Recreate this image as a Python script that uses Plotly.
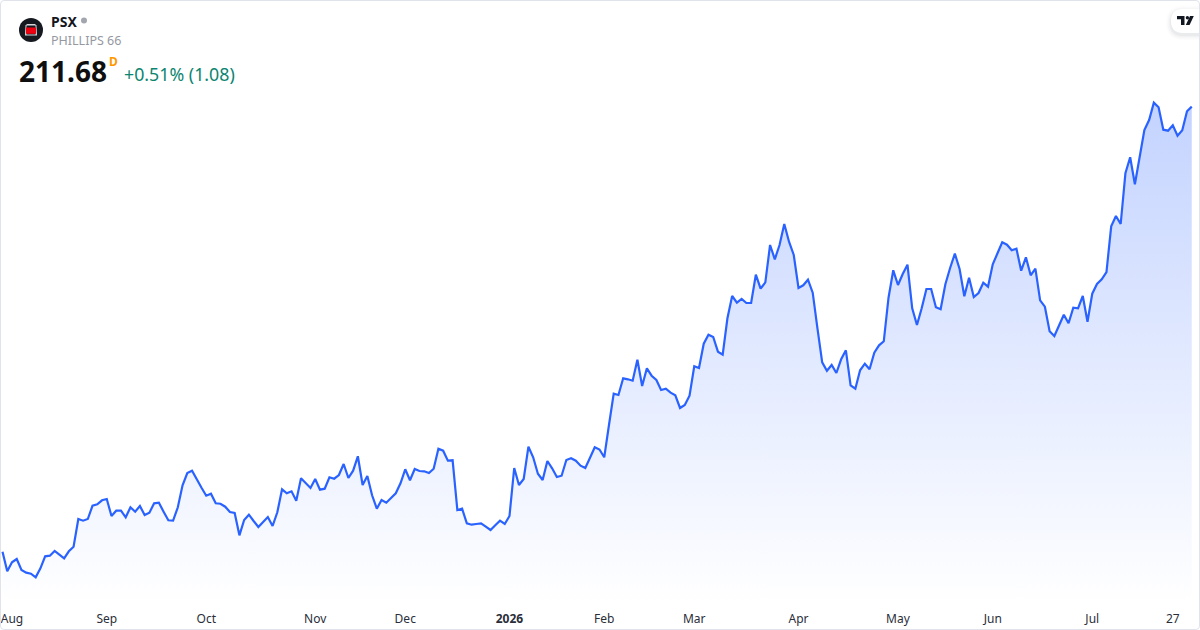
import plotly.graph_objects as go

ticker = "PSX"
company = "PHILLIPS 66"
last_price = "211.68"
interval = "D"
change_text = "+0.51% (1.08)"

prices_aug_oct = [
    122.66, 118.74, 120.54, 121.2, 119.0, 118.46, 118.26, 117.54, 119.34, 121.74,
    121.86, 122.8, 122.06, 121.34, 122.74, 123.66, 129.2, 128.86, 129.2, 131.86,
    132.14, 132.94, 133.2, 129.8, 130.86, 130.86, 129.54, 131.54, 130.66, 131.8,
    130.0, 130.46, 132.34, 132.46, 130.66, 128.94, 128.86, 131.54, 135.94, 138.4,
    138.86, 137.0, 135.46, 133.86, 134.26, 132.34, 132.26, 131.66, 130.6, 130.4,
    125.94, 129.0, 130.06, 128.8, 127.6, 128.6, 129.6, 127.8, 130.54, 135.14,
    134.34, 134.74, 132.86,
]
prices_nov_feb = [
    137.34, 136.46, 135.4, 137.2, 135.06, 135.26, 137.54, 137.26, 138.0, 140.2,
    137.4, 138.86, 141.74, 136.0, 137.8, 133.94, 131.26, 133.0, 132.46, 133.4,
    134.34, 136.34, 139.14, 136.94, 139.2, 138.8, 138.74, 138.4, 139.26, 143.26,
    142.86, 140.86, 140.94, 131.0, 131.26, 128.34, 128.06, 128.2, 128.34, 127.66,
    127.0, 127.94, 128.86, 128.2, 129.8, 139.4, 136.0, 137.2, 143.66, 141.54,
    138.26, 137.0, 140.8, 139.34, 137.6, 137.86, 141.0, 141.34, 140.86, 139.86,
    139.4, 141.46, 143.54, 143.1, 141.54, 148.0,
]
prices_feb_may = [
    154.26, 154.0, 157.34, 157.14, 156.86, 161.06, 155.8, 159.34, 157.86, 157.0,
    155.0, 155.26, 154.46, 153.94, 151.4, 152.0, 153.86, 159.74, 159.4, 164.26,
    166.06, 165.6, 162.66, 162.06, 169.34, 173.8, 172.46, 173.2, 172.4, 172.4,
    178.06, 175.26, 176.54, 184.0, 181.14, 184.0, 188.2, 184.66, 182.0, 175.4,
    175.94, 177.06, 174.46, 167.34, 160.54, 158.86, 160.0, 158.4, 161.14, 162.94,
    155.94, 155.26, 158.94, 160.26, 159.14, 162.46, 163.94,
]
prices_may_jul = [
    164.74, 173.46, 178.94, 176.0, 178.2, 180.06, 171.34, 168.0, 171.34, 175.2,
    175.2, 171.54, 171.14, 176.14, 179.4, 182.26, 179.2, 173.74, 177.46, 173.6,
    174.4, 176.46, 175.66, 180.14, 182.34, 184.54, 184.06, 182.94, 183.26, 178.86,
    181.54, 177.94, 179.26, 172.94, 171.66, 166.74, 165.8, 168.0, 170.06, 168.34,
    171.46, 171.34, 173.8, 168.66, 174.26, 176.2, 177.14, 178.6, 187.74, 189.8,
    188.2, 198.34, 201.54, 196.14, 201.34, 207.0, 209.0, 212.46, 211.54, 207.06,
    206.86, 207.94, 205.86, 206.94, 210.74, 211.68,
]
prices = prices_aug_oct + prices_nov_feb + prices_feb_may + prices_may_jul
session_index = list(range(len(prices)))

tick_sessions = [2, 22, 43, 66, 85, 107, 127, 146, 168, 189, 209, 230, 247]
tick_labels = ["Aug", "Sep", "Oct", "Nov", "Dec", "<b>2026</b>", "Feb", "Mar",
               "Apr", "May", "Jun", "Jul", "27"]

W, H, PLOT_BOTTOM = 1200, 630, 604
BLUE = "#2962FF"
PX_PER_SESSION = 4.738
X_START = -0.53
Y_TOP, Y_BOTTOM = 233.0, 112.2


def fx(px):
    return px / W


def fy(py):
    return (PLOT_BOTTOM - py) / PLOT_BOTTOM


fig = go.Figure(
    go.Scatter(
        x=session_index,
        y=prices,
        mode="lines",
        line=dict(color=BLUE, width=2.2),
        fill="tozeroy",
        fillgradient=dict(
            type="vertical",
            start=Y_BOTTOM,
            stop=213,
            colorscale=[[0, "rgba(41,98,255,0)"], [1, "rgba(41,98,255,0.28)"]],
        ),
        hoverinfo="skip",
    )
)


def rect(x0, y0, x1, y1, fill, line="rgba(0,0,0,0)", layer="above"):
    return dict(type="rect", xref="paper", yref="paper", x0=fx(x0), x1=fx(x1),
                y0=fy(y1), y1=fy(y0), fillcolor=fill, line=dict(color=line, width=0),
                layer=layer)


def circle(cx, cy, r, fill):
    return dict(type="circle", xref="paper", yref="paper", x0=fx(cx - r), x1=fx(cx + r),
                y0=fy(cy + r), y1=fy(cy - r), fillcolor=fill, line=dict(width=0))


def poly(points, fill, layer="above", line_color=None):
    d = "M " + " L ".join(f"{fx(x):.5f},{fy(y):.5f}" for x, y in points) + " Z"
    ln = dict(width=0) if line_color is None else dict(color=line_color, width=1)
    return dict(type="path", xref="paper", yref="paper", path=d, fillcolor=fill,
                line=ln, layer=layer)


def pill(x0, y0, y1, fill):
    r = (y1 - y0) / 2
    d = (f"M {fx(W + 5):.5f},{fy(y0):.5f} L {fx(x0 + r):.5f},{fy(y0):.5f} "
         f"Q {fx(x0):.5f},{fy(y0):.5f} {fx(x0):.5f},{fy(y0 + r):.5f} "
         f"Q {fx(x0):.5f},{fy(y1):.5f} {fx(x0 + r):.5f},{fy(y1):.5f} "
         f"L {fx(W + 5):.5f},{fy(y1):.5f} Z")
    return dict(type="path", xref="paper", yref="paper", path=d, fillcolor=fill,
                line=dict(width=0))


shapes = []
# logo
shapes.append(circle(31, 30, 12, "#16191F"))
shapes.append(poly([(25.5, 25.5), (27, 24), (35, 24), (36.5, 25.5), (37, 35.5), (25, 35.5)], "#D5D7DB"))
shapes.append(rect(26.5, 25.5, 35.5, 34.5, "#16191F"))
shapes.append(rect(26, 27.5, 36, 33.8, "#EE0010"))
# status dot
shapes.append(circle(84, 20.5, 3, "#A3A6AF"))
# TradingView badge with soft shadow
for grow, alpha in ((5, 0.012), (3.5, 0.018), (2, 0.025), (1, 0.03)):
    shapes.append(pill(1171 - grow, 9 - grow + 2, 33 + grow + 2, f"rgba(19,23,34,{alpha})"))
shapes.append(pill(1171, 9, 33, "#FFFFFF"))
shapes.append(poly([(1177, 16), (1184.5, 16), (1184.5, 25), (1181, 25), (1181, 19.3), (1177, 19.3)], "#131722"))
shapes.append(circle(1187.4, 17.7, 1.7, "#131722"))
shapes.append(poly([(1190, 16), (1193.8, 16), (1189.6, 25), (1185.8, 25)], "#131722"))
# widget frame, drawn last so it stays on top of the badge edge
r = 4
frame = (f"M {fx(r):.5f},{fy(0.5):.5f} L {fx(W - r):.5f},{fy(0.5):.5f} "
         f"Q {fx(W - 0.5):.5f},{fy(0.5):.5f} {fx(W - 0.5):.5f},{fy(r):.5f} "
         f"L {fx(W - 0.5):.5f},{fy(H - r):.5f} "
         f"Q {fx(W - 0.5):.5f},{fy(H - 0.5):.5f} {fx(W - r):.5f},{fy(H - 0.5):.5f} "
         f"L {fx(r):.5f},{fy(H - 0.5):.5f} "
         f"Q {fx(0.5):.5f},{fy(H - 0.5):.5f} {fx(0.5):.5f},{fy(H - r):.5f} "
         f"L {fx(0.5):.5f},{fy(r):.5f} Q {fx(0.5):.5f},{fy(0.5):.5f} {fx(r):.5f},{fy(0.5):.5f} Z")
shapes.append(dict(type="path", xref="paper", yref="paper", path=frame,
                   line=dict(color="#E0E3EB", width=1), fillcolor="rgba(0,0,0,0)"))


def label(text, x, y, size, color, bold=False):
    return dict(text=f"<b>{text}</b>" if bold else text, x=fx(x), y=fy(y), xref="paper",
                yref="paper", xanchor="left", yanchor="middle", showarrow=False,
                borderpad=0, borderwidth=0, font=dict(family="Noto Sans", size=size, color=color))


annotations = [
    label(ticker, 51, 21, 14, "#131722", bold=True),
    label(company, 51, 40.5, 12.5, "#9598A1"),
    label(last_price, 19, 71, 28, "#0F0F0F", bold=True),
    label(interval, 109, 61, 12, "#FF9800", bold=True),
    label(change_text, 124, 74, 17.8, "#0C8570"),
]

fig.update_layout(
    width=W,
    height=H,
    autosize=False,
    margin=dict(l=0, r=0, t=0, b=H - PLOT_BOTTOM, pad=0),
    paper_bgcolor="#FFFFFF",
    plot_bgcolor="#FFFFFF",
    showlegend=False,
    shapes=shapes,
    annotations=annotations,
    xaxis=dict(
        range=[X_START, W / PX_PER_SESSION + X_START],
        tickmode="array",
        tickvals=tick_sessions,
        ticktext=tick_labels,
        showgrid=False,
        zeroline=False,
        showline=False,
        ticks="outside",
        ticklen=4,
        tickcolor="rgba(0,0,0,0)",
        tickfont=dict(family="Noto Sans", size=12, color="#2A2E39"),
        fixedrange=True,
    ),
    yaxis=dict(range=[Y_BOTTOM, Y_TOP], visible=False, fixedrange=True),
)

fig.write_html("out.html", config={"displayModeBar": False},
               post_script="document.body.style.margin='0';")
